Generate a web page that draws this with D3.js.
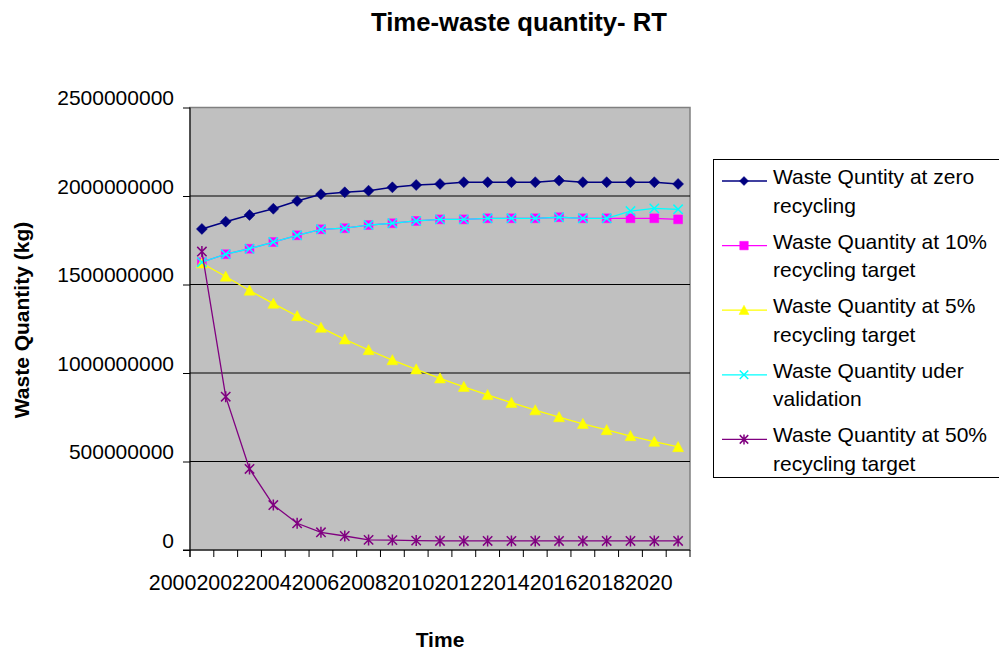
<!DOCTYPE html>
<html><head><meta charset="utf-8">
<script src="https://cdn.jsdelivr.net/npm/d3@7"></script>
<style>body{margin:0;background:#fff}svg{display:block;font-family:"Liberation Sans",Arial,sans-serif}</style>
</head><body><svg id="c" width="999" height="650"></svg>
<script>
const years = ["2000","2001","2002","2003","2004","2005","2006","2007","2008","2009","2010","2011","2012","2013","2014","2015","2016","2017","2018","2019","2020"];
const xLabels = ["2000","2002","2004","2006","2008","2010","2012","2014","2016","2018","2020"];
const yTicks = [0,500000000,1000000000,1500000000,2000000000,2500000000];
const zeroRecycling = [1814e6,1855e6,1893e6,1928e6,1972e6,2010e6,2021e6,2030e6,2049e6,2062e6,2068e6,2078e6,2078e6,2078e6,2078e6,2087e6,2078e6,2078e6,2078e6,2078e6,2068e6];
const target10 = [1626e6,1671e6,1702e6,1740e6,1778e6,1812e6,1818e6,1836e6,1846e6,1859e6,1868e6,1868e6,1874e6,1874e6,1874e6,1880e6,1874e6,1874e6,1874e6,1874e6,1868e6];
const target5 = [1620e6,1545e6,1466e6,1392e6,1322e6,1256e6,1190e6,1130e6,1073e6,1021e6,970e6,922e6,876e6,832e6,790e6,751e6,713e6,678e6,644e6,612e6,582e6];
const underValidation = [1626e6,1671e6,1702e6,1740e6,1778e6,1812e6,1818e6,1836e6,1846e6,1859e6,1868e6,1868e6,1874e6,1874e6,1874e6,1880e6,1874e6,1874e6,1915e6,1930e6,1925e6];
const target50 = [1686e6,866e6,458e6,254e6,151e6,100e6,79e6,57e6,56e6,53e6,51e6,51e6,51e6,51e6,51e6,51e6,51e6,51e6,51e6,51e6,51e6];
const legendLines = [["Waste Quntity at zero","recycling"],["Waste Quantity at 10%","recycling target"],["Waste Quantity at 5%","recycling target"],["Waste Quantity uder","validation"],["Waste Quantity at 50%","recycling target"]];
const colors = ["#000080","#FF00FF","#FFFF00","#00FFFF","#800080"];
const markerKinds = ["diamond","square","triangle","x","star"];
const seriesData = [zeroRecycling,target10,target5,underValidation,target50];

const svg = d3.select("#c");
const L = 190, R = 690, T = 107.5, B = 550;
const x = d3.scaleBand().domain(years).range([L, R]);
const y = d3.scaleLinear().domain([0, 2500000000]).range([B, T]);
const cx = d => x(d) + x.bandwidth() / 2;

function markerPath(kind, s) {
  if (kind === "diamond") return `M0,${-s}L${s},0L0,${s}L${-s},0Z`;
  if (kind === "square") { const h = s * 0.85; return `M${-h},${-h}H${h}V${h}H${-h}Z`; }
  if (kind === "triangle") return `M0,${-s}L${s},${s*0.85}L${-s},${s*0.85}Z`;
  const h = s * 0.85;
  const xp = `M${-h},${-h}L${h},${h}M${-h},${h}L${h},${-h}`;
  if (kind === "x") return xp;
  return xp + `M0,${-s}L0,${s}`;
}
function drawMarker(g, kind, color, s) {
  const filled = kind === "diamond" || kind === "square" || kind === "triangle";
  g.append("path").attr("d", markerPath(kind, s))
    .attr("fill", filled ? color : "none")
    .attr("stroke", color).attr("stroke-width", filled ? 0.5 : 1.5);
}

// plot area
svg.append("rect").attr("x", L).attr("y", T).attr("width", R - L).attr("height", B - T)
  .attr("fill", "#C0C0C0").attr("stroke", "#808080").attr("stroke-width", 1.5);
// gridlines
svg.append("g").selectAll("line").data(yTicks.filter(v => v > 0 && v < 2500000000)).join("line")
  .attr("x1", L).attr("x2", R).attr("y1", d => y(d)).attr("y2", d => y(d))
  .attr("stroke", "#000").attr("stroke-width", 1);

// y axis
const yAxis = svg.append("g").attr("transform", `translate(${L},0)`)
  .call(d3.axisLeft(y).tickValues(yTicks).tickFormat(d3.format("d")).tickSize(7).tickPadding(9));
yAxis.select(".domain").attr("stroke", "#000").attr("d", `M0,${T}V${B + 7}`);
yAxis.selectAll("text").attr("font-size", 21).attr("fill", "#000").attr("font-family", "Liberation Sans, Arial, sans-serif").attr("y", -9.5);
yAxis.selectAll("line").attr("stroke", "#000");

// x axis
const xg = svg.append("g");
xg.append("line").attr("x1", L - 7).attr("x2", R).attr("y1", B).attr("y2", B).attr("stroke", "#000");
xg.selectAll(".tk").data(d3.range(years.length + 1)).join("line").attr("class", "tk")
  .attr("x1", i => L + i * x.step()).attr("x2", i => L + i * x.step())
  .attr("y1", B).attr("y2", B + 7).attr("stroke", "#000");
xg.selectAll("text").data(xLabels).join("text")
  .attr("x", d => cx(d) - 5.5).attr("y", 590).attr("text-anchor", "end")
  .attr("font-size", 21.4).attr("fill", "#000").text(d => d);

// series
const line = d3.line().x((d, i) => cx(years[i])).y(d => y(d));
seriesData.forEach((vals, si) => {
  const g = svg.append("g");
  g.append("path").datum(vals).attr("d", line).attr("fill", "none")
    .attr("stroke", colors[si]).attr("stroke-width", si === 0 ? 1.5 : 1.3);
  vals.forEach((v, i) => {
    const m = g.append("g").attr("transform", `translate(${cx(years[i])},${y(v)})`);
    drawMarker(m, markerKinds[si], colors[si], markerKinds[si] === "square" ? 5.2 : 5.5);
  });
});

// titles
svg.append("text").attr("x", 519).attr("y", 31).attr("text-anchor", "middle")
  .attr("font-size", 26).attr("font-weight", "bold").attr("textLength", 296).attr("lengthAdjust", "spacingAndGlyphs")
  .text("Time-waste quantity- RT");
svg.append("text").attr("x", (L + R) / 2).attr("y", 647).attr("text-anchor", "middle")
  .attr("font-size", 21).attr("font-weight", "bold").text("Time");
svg.append("text").attr("transform", "translate(29,320) rotate(-90)").attr("text-anchor", "middle")
  .attr("font-size", 21).attr("font-weight", "bold").text("Waste Quantity (kg)");

// legend
const lg = svg.append("g");
lg.append("rect").attr("x", 713.5).attr("y", 159.5).attr("width", 300).attr("height", 318)
  .attr("fill", "#fff").attr("stroke", "#000").attr("stroke-width", 1);
legendLines.forEach((lines, i) => {
  const by = 184 + i * 64.6;
  lg.append("line").attr("x1", 722).attr("x2", 767).attr("y1", by - 3).attr("y2", by - 3)
    .attr("stroke", colors[i]).attr("stroke-width", 1.3);
  const m = lg.append("g").attr("transform", `translate(744,${by - 3})`);
  drawMarker(m, markerKinds[i], colors[i], markerKinds[i] === "diamond" ? 4.5 : 5);
  lines.forEach((t, j) => {
    lg.append("text").attr("x", 773).attr("y", by + j * 28.5).attr("font-size", 21).attr("fill", "#000").text(t);
  });
});
</script></body></html>
